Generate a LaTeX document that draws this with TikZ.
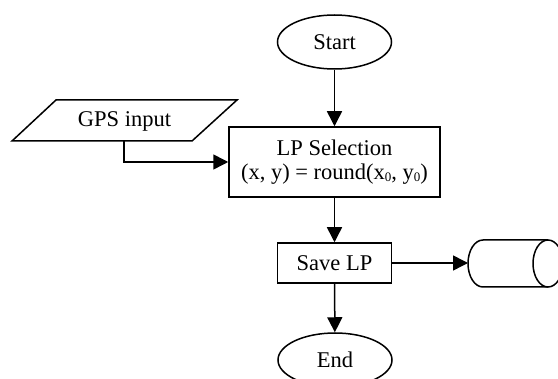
\documentclass[tikz,border=0pt]{standalone}
\usepackage{fontspec}
\setmainfont{Liberation Serif}
\usetikzlibrary{shapes.geometric,arrows.meta}
\newcommand{\subzero}{\raisebox{-2pt}{\fontsize{13}{13}\selectfont 0}}
\begin{document}
\begin{tikzpicture}[x=1pt,y=-1pt,
  line width=1.5pt,
  every node/.style={font=\fontsize{22.5}{26}\selectfont},
  term/.style={draw,ellipse,minimum width=114pt,minimum height=54pt,inner sep=0pt},
  proc/.style={draw,rectangle,inner sep=0pt},
  arr/.style={-{Triangle[length=15pt,width=15pt]}}]
\useasboundingbox (0,0) rectangle (558,379);
\node[term] (start) at (334.5,42) {Start};
\node[proc,minimum width=211pt,minimum height=70pt,align=center] (lp) at (334.5,162)
  {LP Selection\\[-2pt](x, y) = round(x\subzero, y\subzero)};
\node[proc,minimum width=114pt,minimum height=40pt] (save) at (334.5,263) {Save LP};
\node[term] (end) at (335,360) {End};
% GPS input parallelogram
\draw (56,100) -- (237,100) -- (192,141) -- (12,141) -- cycle;
\node (gps) at (124.5,121) {GPS input};
\coordinate (gpsb) at (124,141);
% cylinder (storage)
\draw (548,240) -- (483,240) arc[start angle=90,end angle=270,x radius=15pt,y radius=23.5pt] -- (548,287);
\draw (548,263.5) ellipse[x radius=15pt,y radius=23.5pt];
\coordinate (db) at (468,263);
% connectors
\draw[arr] (start) -- (lp);
\draw[arr] (gpsb) |- (lp.west);
\draw[arr] (lp) -- (save);
\draw[arr] (save) -- (end);
\draw[arr] (save.east) -- (db);
\end{tikzpicture}
\end{document}
